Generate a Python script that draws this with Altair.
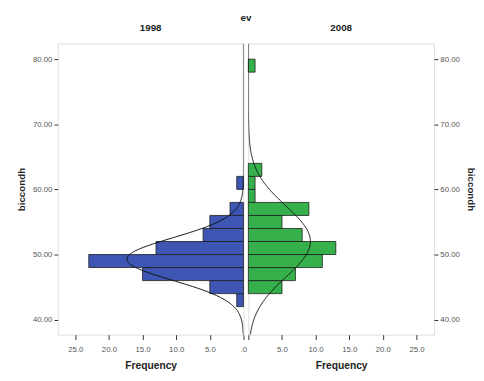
import altair as alt
import pandas as pd

# ---- data ----
bin_lo = [42, 44, 46, 48, 50, 52, 54, 56, 58, 60, 62, 78]
bin_width = 2
freq_1998 = [1, 5, 15, 23, 13, 6, 5, 2, 0, 1, 0, 0]
freq_2008 = [0, 5, 7, 11, 13, 8, 5, 9, 1, 1, 2, 1]

# normal curve parameters (mean, sd)
mean_1998, sd_1998 = 49.3, 3.27
mean_2008, sd_2008 = 52.0, 5.45

x_ticks = [0, 5, 10, 15, 20, 25]
y_ticks = [40, 50, 60, 70, 80]
x_max = 27.6
y_min, y_max = 37.7, 82.4

FONT = "Liberation Sans"
BLUE = "#3D56B4"
GREEN = "#35B04A"


def panel_df(freqs):
    return pd.DataFrame({
        "lo": bin_lo,
        "hi": [b + bin_width for b in bin_lo],
        "zero": [0] * len(bin_lo),
        "freq": freqs,
    })


def panel(freqs, mean, sd, color, title, reverse, orient, zero_label):
    df = panel_df(freqs)
    df = df[df["freq"] > 0]
    n = sum(freqs)
    xscale = alt.Scale(domain=[0, x_max], reverse=reverse, nice=False, zero=False)
    yscale = alt.Scale(domain=[y_min, y_max], nice=False, zero=False)
    xaxis = alt.Axis(values=x_ticks, title="Frequency", grid=False,
                     labelExpr=f"datum.value == 0 ? '{zero_label}' : format(datum.value, '.1f')",
                     labelOverlap=False, labelFlush=False,
                     labelFont=FONT, labelFontSize=8, labelColor="#555555",
                     titleFont=FONT, titleFontSize=10.5, titleFontWeight="bold",
                     titleColor="#222222", tickSize=5, tickColor="#333333",
                     domain=False, labelPadding=6, titlePadding=8)
    yaxis = alt.Axis(values=y_ticks, title="biccondh", grid=False, orient=orient,
                     format=".2f", labelFont=FONT, labelFontSize=8,
                     labelColor="#555555", titleFont=FONT, titleFontSize=10,
                     titleFontWeight="bold", titleColor="#222222", tickSize=4,
                     tickColor="#333333", domain=False, labelPadding=2,
                     titlePadding=6)
    bars = alt.Chart(df).mark_bar(color=color, stroke="#1E1E1E", strokeWidth=0.8,
                                  opacity=1).encode(
        x=alt.X("zero:Q", scale=xscale, axis=xaxis),
        x2="freq:Q",
        y=alt.Y("lo:Q", scale=yscale, axis=yaxis),
        y2="hi:Q",
    )
    curve = alt.Chart(alt.sequence(y_min, y_max + 0.05, 0.1, as_="v")).transform_calculate(
        dens=f"{n * bin_width} / ({sd} * sqrt(2*PI)) * exp(-pow(datum.v - {mean}, 2) / (2*{sd}*{sd}))"
    ).mark_line(color="#111111", strokeWidth=1, clip=True).encode(
        x=alt.X("dens:Q", scale=xscale, axis=xaxis),
        y=alt.Y("v:Q", scale=yscale, axis=yaxis),
        order="v:Q",
    )
    return alt.layer(bars, curve).properties(
        width=190, height=298,
        title=alt.TitleParams(title, font=FONT, fontSize=10, fontWeight="bold",
                              color="#222222", offset=11),
    )


left = panel(freq_1998, mean_1998, sd_1998, BLUE, "1998", True, "left", ".0")
right = panel(freq_2008, mean_2008, sd_2008, GREEN, "2008", False, "right", "")

chart = alt.hconcat(left, right, spacing=0).properties(
    title=alt.TitleParams("ev", font=FONT, fontSize=10, fontWeight="bold",
                          color="#222222", anchor="middle", offset=0),
    padding={"left": 8, "top": 0, "right": 0, "bottom": 0},
).configure_view(
    fill="#EFEFEF", stroke="#6E6E6E", strokeWidth=1.2
).configure(background="white")

chart.save("out.html", embed_options={"renderer": "svg", "actions": False})
